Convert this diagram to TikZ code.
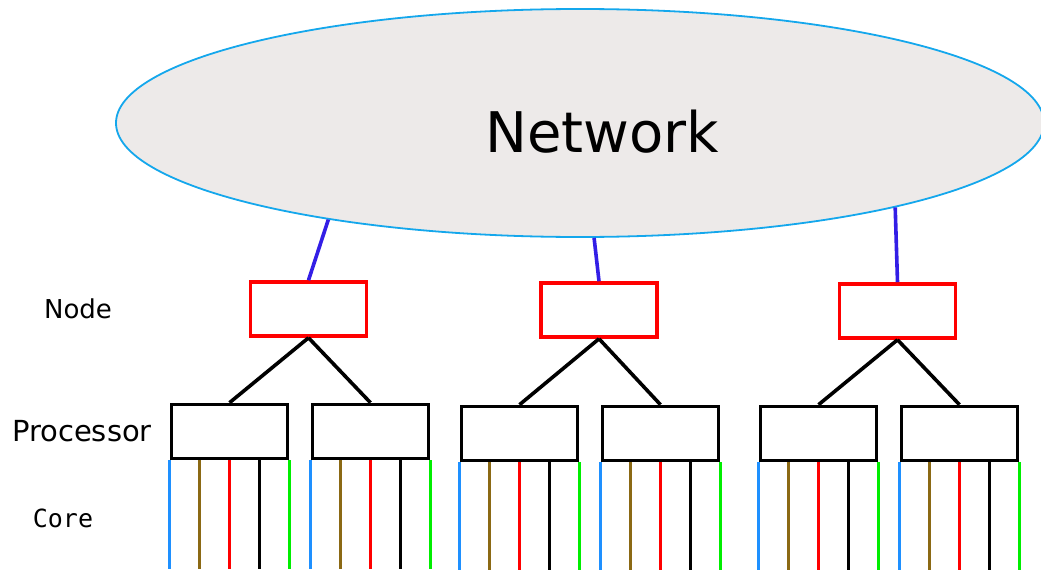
\documentclass[tikz,border=0pt]{standalone}
\usepackage{fontspec}
\setmainfont{DejaVu Sans}
\setmonofont{DejaVu Sans Mono}
\usepackage{tikz}
\usetikzlibrary{shapes.geometric,calc}

\definecolor{netfill}{RGB}{237,234,233}
\definecolor{netedge}{RGB}{20,167,236}
\definecolor{linkblue}{RGB}{51,30,230}
\definecolor{coreblue}{RGB}{30,144,255}
\definecolor{corebrown}{RGB}{139,105,20}
\definecolor{coregreen}{RGB}{0,238,0}

\begin{document}
\begin{tikzpicture}[x=1pt,y=-1pt,node distance=141pt,
    network/.style={ellipse, draw=netedge, line width=1.8pt, fill=netfill,
      minimum width=928pt, minimum height=228pt, inner sep=0pt},
    nodebox/.style={rectangle, draw=red, line width=3.6pt,
      minimum width=116pt, minimum height=54pt, inner sep=0pt},
    procbox/.style={rectangle, draw=black, line width=3.6pt,
      minimum width=116pt, minimum height=54pt, inner sep=0pt},
    uplink/.style={draw=linkblue, line width=3.6pt},
    bus/.style={draw=black, line width=3.6pt},
    core/.style={line width=3.4pt},
    levellabel/.style={anchor=base, inner sep=0pt}]
        \useasboundingbox (0,0) rectangle (1041,570);

        \node[network] (net) at (580,123) {};
        \node[anchor=base, inner sep=0pt, font=\fontsize{56}{60}\selectfont]
          (nettext) at (602.5,152) {Network};

        % level labels
        \node[levellabel, font=\fontsize{26}{30}\selectfont] (lnode) at (78,318) {Node};
        \node[levellabel, font=\fontsize{29}{33}\selectfont] (lproc) at (82,441) {Processor};
        \node[levellabel, font=\fontsize{25}{29}\selectfont\ttfamily] (lcore) at (63,527) {Core};

        % nodes
        \node[nodebox] (n1) at (308.5,309) {};
        \node[nodebox] (n2) at (599,310) {};
        \node[nodebox] (n3) at (897.5,311) {};

        % processors
        \node[procbox] (p1) at (229.5,431.5) {};
        \node[procbox] (p2) [right of = p1] {};
        \node[procbox] (p3) at (519.5,433.5) {};
        \node[procbox] (p4) [right of = p3] {};
        \node[procbox] (p5) at (818.5,433.5) {};
        \node[procbox] (p6) [right of = p5] {};

        \path[uplink] (net.-159) -- (n1.north);
        \path[uplink] (net.-83) -- (n2.north);
        \path[uplink] (net.-15) -- (n3.north);

        \path[bus] (n1.south) -- (p1.north) (n1.south) -- (p2.north);
        \path[bus] (n2.south) -- (p3.north) (n2.south) -- (p4.north);
        \path[bus] (n3.south) -- (p5.north) (n3.south) -- (p6.north);

        % cores
        \foreach \p in {p1,p2,p3,p4,p5,p6}
          \foreach \c [count=\i from 0] in {coreblue,corebrown,red,black,coregreen}
            \draw[core,\c] ($(\p.south west)!\i/4!(\p.south east)$) -- ++(0,109);
      \end{tikzpicture}
\end{document}
